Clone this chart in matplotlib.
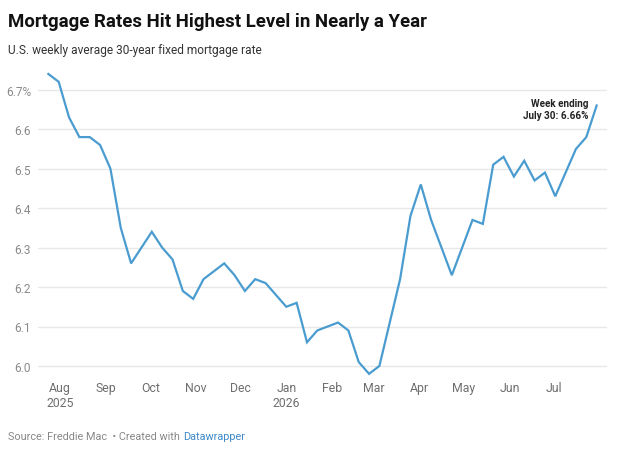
import numpy as np
import pandas as pd
import matplotlib
matplotlib.use("Agg")
import matplotlib.pyplot as plt

plt.rcParams['font.family'] = ['Roboto', 'DejaVu Sans']

# weekly freddie mac pmms, 30-yr fixed
week_ending = [
    '2025-07-24', '2025-07-31',
    '2025-08-07', '2025-08-14', '2025-08-21', '2025-08-28',
    '2025-09-04', '2025-09-11', '2025-09-18', '2025-09-25',
    '2025-10-02', '2025-10-09', '2025-10-16', '2025-10-23', '2025-10-30',
    '2025-11-06', '2025-11-13', '2025-11-20', '2025-11-27',
    '2025-12-04', '2025-12-11', '2025-12-18', '2025-12-25',
    '2026-01-01', '2026-01-08', '2026-01-15', '2026-01-22', '2026-01-29',
    '2026-02-05', '2026-02-12', '2026-02-19', '2026-02-26',
    '2026-03-05', '2026-03-12', '2026-03-19', '2026-03-26',
    '2026-04-02', '2026-04-09', '2026-04-16', '2026-04-23', '2026-04-30',
    '2026-05-07', '2026-05-14', '2026-05-21', '2026-05-28',
    '2026-06-04', '2026-06-11', '2026-06-18', '2026-06-25',
    '2026-07-02', '2026-07-09', '2026-07-16', '2026-07-23', '2026-07-30',
]
rate = [
    6.74, 6.72,
    6.63, 6.58, 6.58, 6.56,
    6.50, 6.35, 6.26, 6.30,
    6.34, 6.30, 6.27, 6.19, 6.17,
    6.22, 6.24, 6.26, 6.23,
    6.19, 6.22, 6.21, 6.18,
    6.15, 6.16, 6.06, 6.09, 6.10,
    6.11, 6.09, 6.01, 5.98,
    6.00, 6.11, 6.22, 6.38,
    6.46, 6.37, 6.30, 6.23, 6.30,
    6.37, 6.36, 6.51, 6.53,
    6.48, 6.52, 6.47, 6.49,
    6.43, 6.49, 6.55, 6.58, 6.66,
]

month_ticks = ['2025-08-01', '2025-09-01', '2025-10-01', '2025-11-01', '2025-12-01',
               '2026-01-01', '2026-02-01', '2026-03-01', '2026-04-01', '2026-05-01',
               '2026-06-01', '2026-07-01']
month_labels = ['Aug\n2025', 'Sep', 'Oct', 'Nov', 'Dec', 'Jan\n2026', 'Feb', 'Mar',
                'Apr', 'May', 'Jun', 'Jul']
y_ticks = [6.0, 6.1, 6.2, 6.3, 6.4, 6.5, 6.6, 6.7]
y_labels = ['6.0', '6.1', '6.2', '6.3', '6.4', '6.5', '6.6', '6.7%']

dates = pd.to_datetime(week_ending)
W, H = 617, 452

fig = plt.figure(figsize=(W / 100, H / 100), dpi=100)
ax = fig.add_axes([38 / W, 1 - 378.8 / H, (607 - 38) / W, (378.8 - 71) / H])

ax.plot(dates, rate, color='#4a9cd0', lw=1.6, clip_on=False, solid_joinstyle='miter')

ax.set_xlim(dates[0] - pd.Timedelta(days=7), dates[-1] + pd.Timedelta(days=7))
ax.set_ylim(5.97, 6.75)

ax.set_yticks(y_ticks)
ax.set_yticklabels(y_labels)
ax.set_xticks(pd.to_datetime(month_ticks))
ax.set_xticklabels(month_labels, linespacing=1.15)

ax.tick_params(axis='y', length=0, pad=5, labelsize=8.6, labelcolor='#8a8a8a')
ax.tick_params(axis='x', length=0, pad=2.6, labelsize=8.8, labelcolor='#6e6e6e')
for lab in ax.get_xticklabels():
    lab.set_verticalalignment('top')

ax.grid(axis='y', color='#e8e8e8', lw=1.0)
ax.grid(axis='x', visible=False)
for s in ax.spines.values():
    s.set_visible(False)

# annotation for last point
ax.annotate('Week ending\nJuly 30: 6.66%', xy=(dates[-1], rate[-1]),
            xytext=(-5.8, 5.5), textcoords='offset points', ha='right', va='top',
            fontsize=7.1, fontweight='bold', color='#222222', linespacing=1.3)

fig.text(8 / W, 1 - 27 / H, 'Mortgage Rates Hit Highest Level in Nearly a Year',
         fontsize=13.4, fontweight='bold', color='#111111', va='baseline')
fig.text(8 / W, 1 - 54 / H, 'U.S. weekly average 30-year fixed mortgage rate',
         fontsize=8.6, color='#333333', va='baseline')

src = fig.text(8 / W, 1 - 440 / H, 'Source: Freddie Mac  \u2022 Created with ',
               fontsize=7.8, color='#888888', va='baseline')
fig.canvas.draw()
bb = src.get_window_extent()
fig.text(bb.x1 / W, 1 - 440 / H, 'Datawrapper', fontsize=7.8, color='#3f8ac9', va='baseline')

fig.savefig('out.png', dpi=100)
